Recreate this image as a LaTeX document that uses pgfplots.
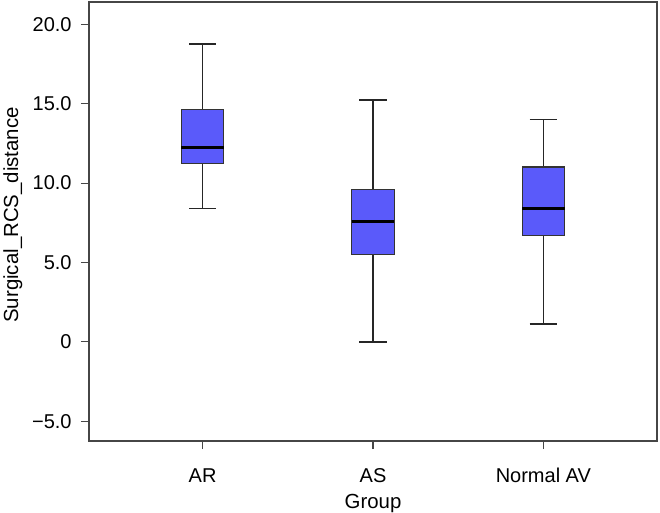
\documentclass[border=0pt]{standalone}
\usepackage{pgfplots}
\pgfplotsset{compat=1.18}
\usepgfplotslibrary{statistics}
\usepackage{fontspec}
\setmainfont{Liberation Sans}
\definecolor{boxblue}{RGB}{90,90,250}
\definecolor{frame}{RGB}{70,70,70}
\begin{document}
\begin{tikzpicture}
\useasboundingbox (-66.75pt,-53.25pt) rectangle (428.25pt,330.75pt);
\begin{axis}[
  scale only axis, width=426pt, height=329.25pt,
  at={(0pt,0pt)}, anchor=south west,
  xmin=0.333, xmax=3.667, ymin=-6.24, ymax=21.4,
  xtick={1,2,3}, xticklabels={AR,AS,Normal AV},
  ytick={-5,0,5,10,15,20}, yticklabels={−5.0,0,5.0,10.0,15.0,20.0},
  tick align=outside, major tick length=6pt, tick pos=left,
  axis line style={frame, line width=0.8pt}, every tick/.style={frame, line width=0.8pt},
  tick label style={font=\fontsize{15}{17}\selectfont},
  label style={font=\fontsize{15.3}{17}\selectfont},
  xticklabel style={yshift=-11pt},
  yticklabel style={xshift=-3.5pt},
  xlabel=Group, ylabel=Surgical\_RCS\_distance,
  ylabel style={at={(axis description cs:-0.134,0.515)}, anchor=center},
  xlabel style={at={(axis description cs:0.5,-0.142)}, anchor=center},
  boxplot/draw direction=y,
  boxplot/box extend=0.25, boxplot/whisker extend=0.16,
  boxplot/every median/.style={line width=2.2pt, black},
  boxplot/every whisker/.style={line width=1.2pt, black!85},
  boxplot/every box/.style={draw=black!80, line width=0.8pt, fill=boxblue},
]
\addplot[boxplot prepared={draw position=1, lower whisker=8.41, lower quartile=11.22, median=12.22, upper quartile=14.64, upper whisker=18.74}] coordinates {};
\addplot[boxplot prepared={draw position=2, lower whisker=0.0, lower quartile=5.51, median=7.59, upper quartile=9.62, upper whisker=15.23}] coordinates {};
\addplot[boxplot prepared={draw position=3, lower whisker=1.12, lower quartile=6.70, median=8.42, upper quartile=11.01, upper whisker=14.01}] coordinates {};
\end{axis}
\end{tikzpicture}
\end{document}
